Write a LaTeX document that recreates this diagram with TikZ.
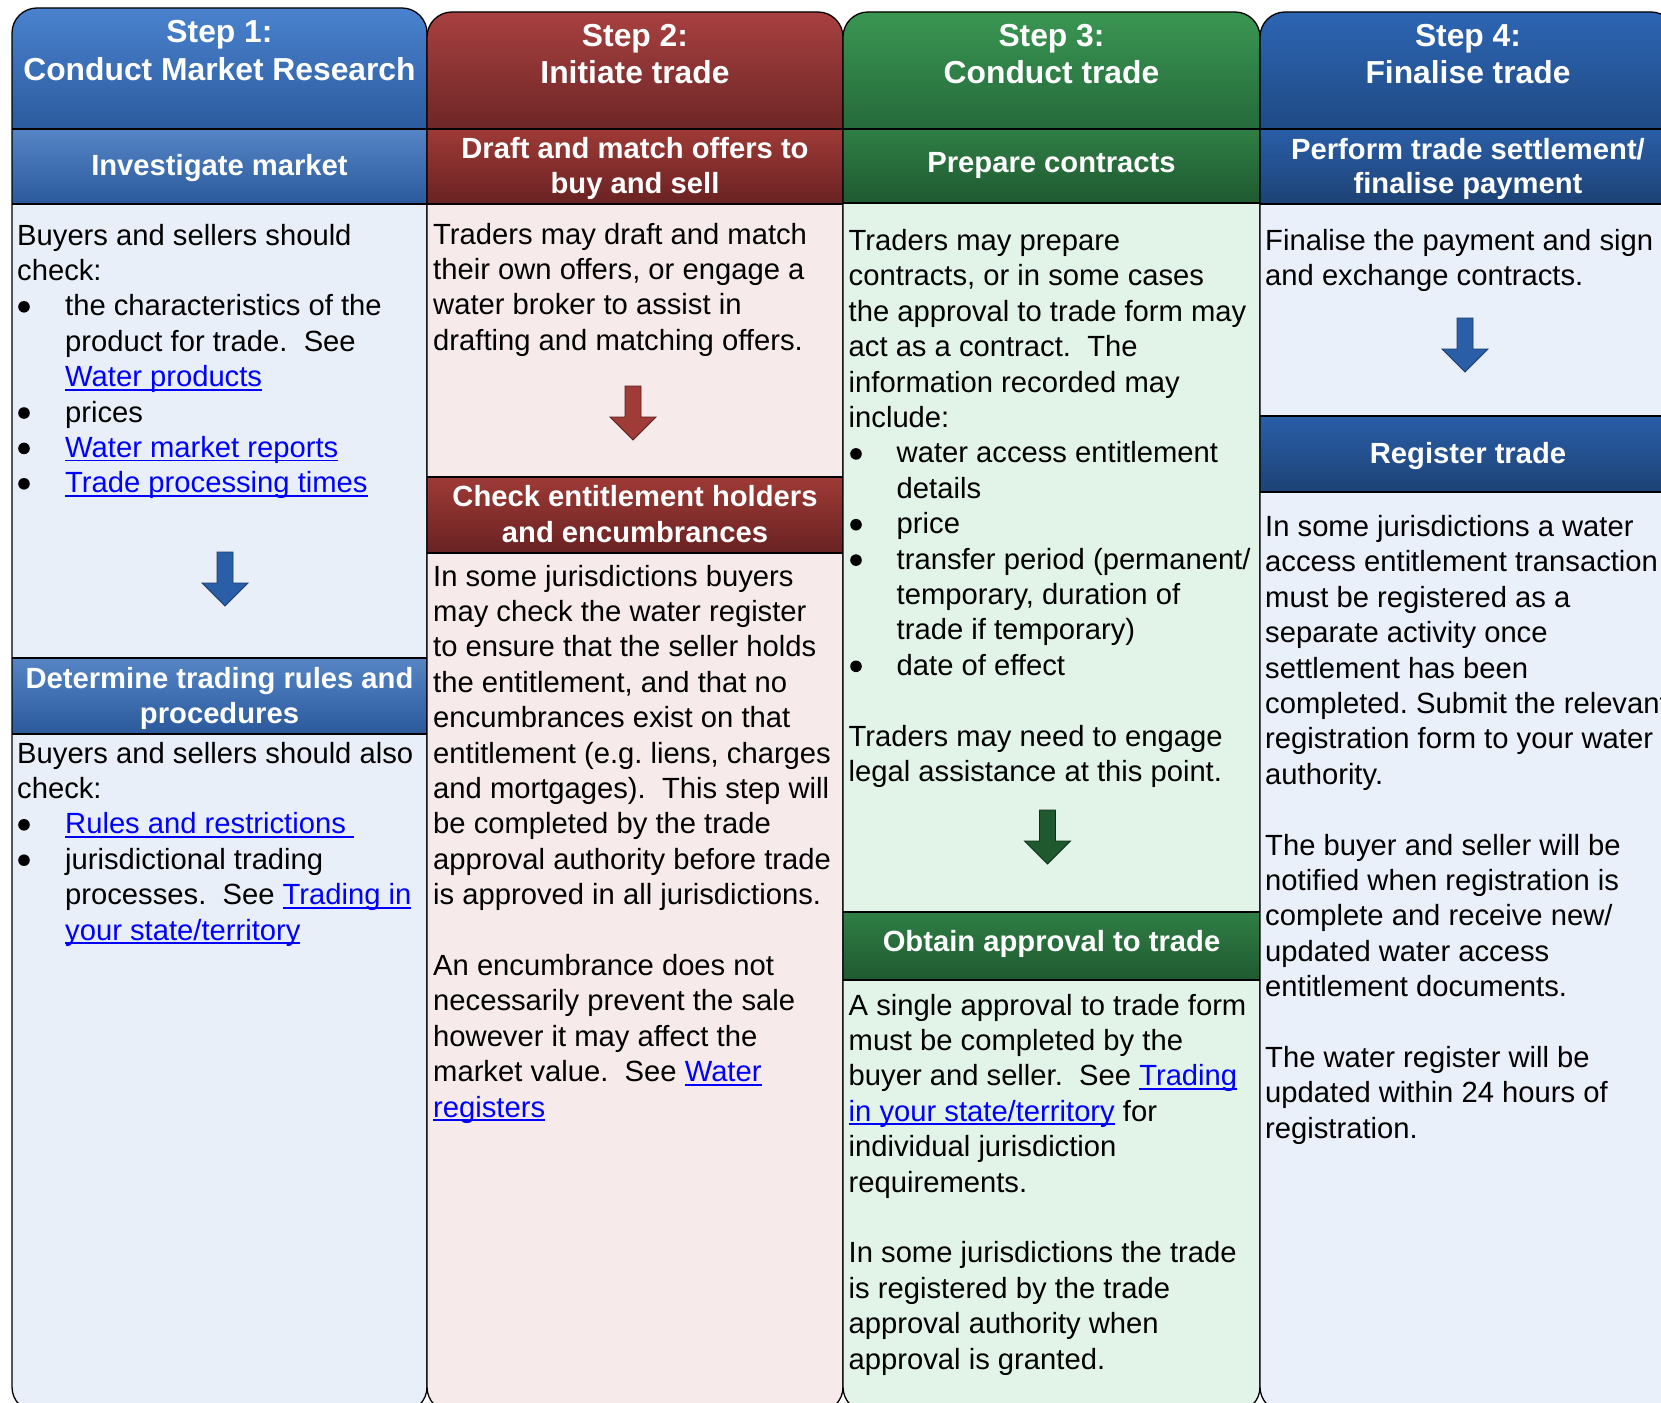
\documentclass[tikz,border=0pt]{standalone}
\usepackage{fontspec}
\setmainfont{Liberation Sans}
\frenchspacing
\definecolor{c1Ht}{HTML}{4A82CE}
\definecolor{c1Hb}{HTML}{2B5B9E}
\definecolor{c1St}{HTML}{5585C5}
\definecolor{c1Sb}{HTML}{2A5A9C}
\definecolor{c1B}{HTML}{E8EFF9}
\definecolor{c2Ht}{HTML}{A84040}
\definecolor{c2Hb}{HTML}{6E2626}
\definecolor{c2St}{HTML}{9E3A36}
\definecolor{c2Sb}{HTML}{692222}
\definecolor{c2B}{HTML}{F6EAEA}
\definecolor{c3Ht}{HTML}{3A9652}
\definecolor{c3Hb}{HTML}{256A3B}
\definecolor{c3St}{HTML}{2F7E45}
\definecolor{c3Sb}{HTML}{1F5A30}
\definecolor{c3B}{HTML}{E2F4E8}
\definecolor{c4Ht}{HTML}{2D65B3}
\definecolor{c4Hb}{HTML}{1F4A84}
\definecolor{c4St}{HTML}{2A5EA8}
\definecolor{c4Sb}{HTML}{1D4275}
\definecolor{c4B}{HTML}{EAF0FA}
\definecolor{linkblue}{HTML}{0000FF}
\definecolor{arBlue}{HTML}{2A5FA8}
\definecolor{arBlueD}{HTML}{1B3C6E}
\definecolor{arRed}{HTML}{A03C38}
\definecolor{arRedD}{HTML}{5A1E1C}
\definecolor{arGreen}{HTML}{1F5A2F}
\definecolor{arGreenD}{HTML}{0F2E18}

\newcommand\Lft[1]{\vtop{\baselineskip=35.4pt\lineskiplimit=-30pt\lineskip=0pt\halign{##\hfil\cr#1\crcr}}}
\newcommand\Ctr[2]{\vtop{\baselineskip=#1\lineskiplimit=-30pt\lineskip=0pt\halign{\hfil##\hfil\cr#2\crcr}}}
\newcommand\ind{\hspace*{48pt}}
\newcommand\lnk[1]{{\color{linkblue}\setbox0\hbox{#1}\rlap{\rule[-4pt]{\wd0}{1.8pt}}\box0}}
\newcommand\dsp{\ \ }

\newcommand\drawcol[8]{%
  \fill[#8,rounded corners=25pt] (#1,1412) rectangle (#2,#3);
  \begin{scope}
    \clip[rounded corners=25pt] (#1,1412) rectangle (#2,#3);
    \shade[top color=#7Ht,bottom color=#7Hb] (#1,#3) rectangle (#2,129);
    \shade[top color=#7St,bottom color=#7Sb] (#1,129) rectangle (#2,#4);
    \shade[top color=#7St,bottom color=#7Sb] (#1,#5) rectangle (#2,#6);
  \end{scope}
  \draw[sep] (#1,129) -- (#2,129);
  \draw[sep] (#1,#4) -- (#2,#4);
  \draw[sep] (#1,#5) -- (#2,#5);
  \draw[sep] (#1,#6) -- (#2,#6);
  \draw[outl,rounded corners=25pt] (#1,1412) rectangle (#2,#3);
}
\newcommand\darrow[4]{%
  \filldraw[fill=#3,draw=#4,line width=0.9pt,line join=miter]
    (#1-8,#2) -- (#1+8,#2) -- (#1+8,#2+31) -- (#1+23,#2+31) -- (#1,#2+54)
    -- (#1-23,#2+31) -- (#1-8,#2+31) -- cycle;
}

\begin{document}
\begin{tikzpicture}[x=1pt,y=-1pt,
  sep/.style={line width=1.5pt,black},
  outl/.style={line width=1.3pt,black},
  hdr/.style={inner sep=0pt,anchor=base,text=white,font=\bfseries\fontsize{31.8}{38}\selectfont},
  sub/.style={inner sep=0pt,anchor=base,text=white,font=\bfseries\fontsize{29.2}{35}\selectfont},
  body/.style={inner sep=0pt,anchor=base west,text=black,font=\fontsize{29.2}{35.4}\selectfont},
  bul/.style={fill=black}]
\useasboundingbox (0,0) rectangle (1661,1402);
\fill[white] (0,0) rectangle (1661,1402);
\begin{scope}
\clip (0,0) rectangle (1661,1402);

% columns
\drawcol{12}{427}{8}{204}{658}{734}{c1}{c1B}
\drawcol{427}{843}{12}{204}{477}{553}{c2}{c2B}
\drawcol{843}{1260}{12}{203}{912}{980}{c3}{c3B}
\drawcol{1260}{1676}{12}{204}{416}{492}{c4}{c4B}

% arrows
\darrow{225}{552}{arBlue}{arBlueD}
\darrow{633}{386}{arRed}{arRedD}
\darrow{1047.5}{810}{arGreen}{arGreenD}
\darrow{1465}{318}{arBlue}{arBlueD}

% headers
\node[hdr] (h1) at (219.5,43) {\Ctr{38pt}{Step 1:\cr Conduct Market Research}};
\node[hdr] (h2) at (635,46.5) {\Ctr{37pt}{Step 2:\cr Initiate trade}};
\node[hdr] (h3) at (1051.5,46.5) {\Ctr{37pt}{Step 3:\cr Conduct trade}};
\node[hdr] (h4) at (1468,46.5) {\Ctr{37pt}{Step 4:\cr Finalise trade}};

% sub headers
\node[sub] (s1) at (219.5,175) {Investigate market};
\node[sub] (s2) at (635,158.5) {\Ctr{34.5pt}{Draft and match offers to\cr buy and sell}};
\node[sub] (s3) at (1051.5,172.5) {Prepare contracts};
\node[sub] (s4) at (1468,159) {\Ctr{34.5pt}{Perform trade settlement/\cr finalise payment}};

% mid bands
\node[sub] (b1) at (219.5,688) {\Ctr{35pt}{Determine trading rules and\cr procedures}};
\node[sub] (b2) at (635,506) {\Ctr{36pt}{Check entitlement holders\cr and encumbrances}};
\node[sub] (b3) at (1051.5,951) {Obtain approval to trade};
\node[sub] (b4) at (1468,463) {Register trade};

% column 1 body
\node[body] (t1a) at (17,245) {\Lft{Buyers and sellers should\cr
check:\cr
\ind the characteristics of the\cr
\ind product for trade.\dsp See\cr
\ind \lnk{Water products}\cr
\ind prices\cr
\ind \lnk{Water market reports}\cr
\ind \lnk{Trade processing times}}};
\foreach \k in {2,5,6,7} \fill[bul] (24,245+35.4*\k-9) circle (5.8);

\node[body] (t1b) at (17,763) {\Lft{Buyers and sellers should also\cr
check:\cr
\ind \lnk{Rules and restrictions }\cr
\ind jurisdictional trading\cr
\ind processes.\dsp See \lnk{Trading in}\cr
\ind \lnk{your state/territory}}};
\foreach \k in {2,3} \fill[bul] (24,763+35.4*\k-9) circle (5.8);

% column 2 body
\node[body] (t2a) at (433,244) {\Lft{Traders may draft and match\cr
their own offers, or engage a\cr
water broker to assist in\cr
drafting and matching offers.}};

\node[body] (t2b) at (433,586) {\Lft{In some jurisdictions buyers\cr
may check the water register\cr
to ensure that the seller holds\cr
the entitlement, and that no\cr
encumbrances exist on that\cr
entitlement (e.g. liens, charges\cr
and mortgages).\dsp This step will\cr
be completed by the trade\cr
approval authority before trade\cr
is approved in all jurisdictions.\cr
\cr
An encumbrance does not\cr
necessarily prevent the sale\cr
however it may affect the\cr
market value.\dsp See \lnk{Water}\cr
\lnk{registers}}};

% column 3 body
\node[body] (t3a) at (848.5,250.5) {\Lft{Traders may prepare\cr
contracts, or in some cases\cr
the approval to trade form may\cr
act as a contract.\dsp The\cr
information recorded may\cr
include:\cr
\ind water access entitlement\cr
\ind details\cr
\ind price\cr
\ind transfer period (permanent/\cr
\ind temporary, duration of\cr
\ind trade if temporary)\cr
\ind date of effect\cr
\cr
Traders may need to engage\cr
legal assistance at this point.}};
\foreach \k in {6,8,9,12} \fill[bul] (856,250.5+35.4*\k-9) circle (5.8);

\node[body] (t3b) at (848.5,1015) {\Lft{A single approval to trade form\cr
must be completed by the\cr
buyer and seller.\dsp See \lnk{Trading}\cr
\lnk{in your state/territory} for\cr
individual jurisdiction\cr
requirements.\cr
\cr
In some jurisdictions the trade\cr
is registered by the trade\cr
approval authority when\cr
approval is granted.}};

% column 4 body
\node[body] (t4a) at (1265,250.5) {\Lft{Finalise the payment and sign\cr
and exchange contracts.}};

\node[body] (t4b) at (1265,536.5) {\Lft{In some jurisdictions a water\cr
access entitlement transaction\cr
must be registered as a\cr
separate activity once\cr
settlement has been\cr
completed. Submit the relevant\cr
registration form to your water\cr
authority.\cr
\cr
The buyer and seller will be\cr
notified when registration is\cr
complete and receive new/\cr
updated water access\cr
entitlement documents.\cr
\cr
The water register will be\cr
updated within 24 hours of\cr
registration.}};
\end{scope}
\end{tikzpicture}
\end{document}
